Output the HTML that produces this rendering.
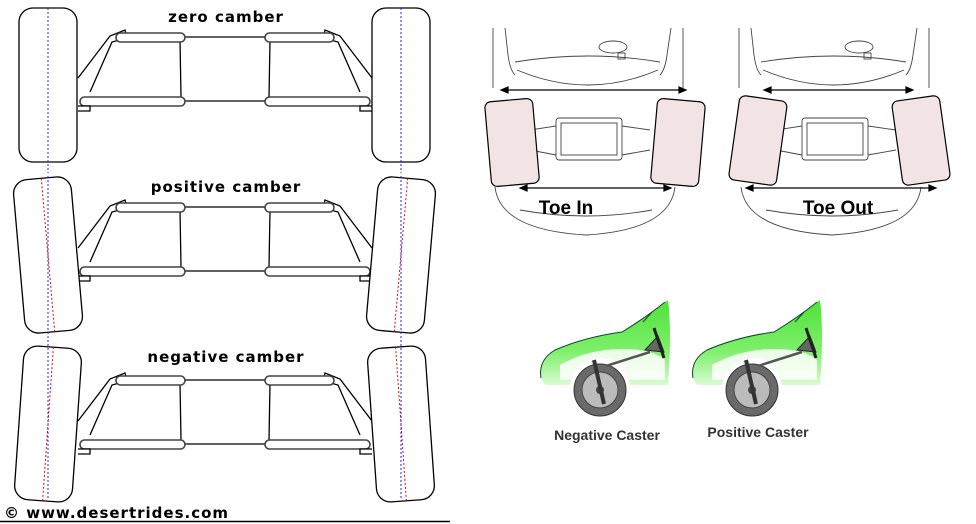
<!DOCTYPE html>
<html><head><style>
html,body{margin:0;padding:0;background:#fff;width:976px;height:524px;overflow:hidden}
svg{display:block}
.t{font-family:"DejaVu Sans","Liberation Sans",sans-serif;font-weight:bold}
</style></head><body>
<svg width="976" height="524" viewBox="0 0 976 524" xmlns="http://www.w3.org/2000/svg">
<defs>
<g id="susp" fill="#fff" stroke="#000" stroke-width="1.3">
  <path d="M78 78 L110 36 L125 30 L127 38 L112 42 L90 92" />
  <line x1="185" y1="37" x2="265" y2="37"/>
  <line x1="185" y1="101" x2="265" y2="101"/>
  <line x1="180" y1="40" x2="181" y2="97"/>
  <line x1="270" y1="40" x2="269" y2="97"/>
  <path d="M372 78 L340 36 L325 30 L323 38 L338 42 L360 92" />
  <rect x="116" y="33" width="69" height="9" rx="4.5" stroke="#444" stroke-width="1.6"/>
  <rect x="265" y="33" width="69" height="9" rx="4.5" stroke="#444" stroke-width="1.6"/>
  <rect x="80" y="97" width="105" height="9" rx="4.5" stroke="#444" stroke-width="1.6"/>
  <rect x="265" y="97" width="105" height="9" rx="4.5" stroke="#444" stroke-width="1.6"/>
  <path d="M78 106 L90 106 L90 111 L78 111" />
  <path d="M372 106 L360 106 L360 111 L372 111" />
</g>
<g id="wheel">
  <rect x="-29" y="-77" width="58" height="154" rx="14" fill="#fff" stroke="#000" stroke-width="1.3"/>
  <line x1="0" y1="-77" x2="0" y2="77" stroke="#e00" stroke-width="1" stroke-dasharray="2,2"/>
</g>
<linearGradient id="gr" x1="0" y1="0" x2="0" y2="1">
  <stop offset="0" stop-color="#4fe03a"/><stop offset="0.6" stop-color="#7ef06a"/><stop offset="1" stop-color="#d9fbd2"/>
</linearGradient>
</defs>

<use href="#susp"/>
<use href="#wheel" transform="translate(48,85)"/>
<use href="#wheel" transform="translate(401,85)"/>
<line x1="48" y1="8" x2="48" y2="173" stroke="#22f" stroke-dasharray="2,2"/>
<line x1="401" y1="8" x2="401" y2="173" stroke="#22f" stroke-dasharray="2,2"/>
<text x="226" y="22" class="t" font-size="15" text-anchor="middle" letter-spacing="1">zero camber</text>

<use href="#susp" transform="translate(0,170)"/>
<use href="#wheel" transform="translate(48,255) rotate(-5)"/>
<use href="#wheel" transform="translate(401,255) rotate(5)"/>
<line x1="48" y1="176" x2="48" y2="340" stroke="#22f" stroke-dasharray="2,2"/>
<line x1="401" y1="176" x2="401" y2="340" stroke="#22f" stroke-dasharray="2,2"/>
<text x="226" y="192" class="t" font-size="15" text-anchor="middle" letter-spacing="1">positive camber</text>

<use href="#susp" transform="translate(0,343)"/>
<use href="#wheel" transform="translate(48,424) rotate(4)"/>
<use href="#wheel" transform="translate(401,424) rotate(-4)"/>
<line x1="48" y1="340" x2="48" y2="500" stroke="#22f" stroke-dasharray="2,2"/>
<line x1="401" y1="340" x2="401" y2="500" stroke="#22f" stroke-dasharray="2,2"/>
<text x="226" y="362" class="t" font-size="15" text-anchor="middle" letter-spacing="1">negative camber</text>

<text x="4" y="518" class="t" font-size="15" letter-spacing="1">© www.desertrides.com</text>
<line x1="0" y1="521.5" x2="450" y2="521.5" stroke="#000" stroke-width="1.5"/>

<!-- Toe In -->
<g fill="none" stroke="#444" stroke-width="0.9">
  <path d="M493 28 L493 88 M505 28 L508 55 Q510 70 515 75 M683 28 L683 88 M671 28 L667 55 Q665 70 660 75"/>
  <path d="M515 62 Q588 50 660 62 M517 70 Q588 100 658 70"/>
  <ellipse cx="613" cy="47" rx="14" ry="6"/>
  <rect x="618" y="53" width="7" height="6"/>
  <rect x="556" y="118" width="66" height="42" rx="3"/>
  <rect x="561" y="123" width="56" height="32"/>
  <path d="M530 130 L556 126 M530 150 L556 155 M622 126 L650 130 M622 155 L650 150"/>
  <path d="M495 187 Q500 230 586 235 Q670 230 675 187"/>
  <path d="M520 210 Q586 222 652 210"/>
</g>
<g stroke="#000" stroke-width="1.2" fill="#f2e4e4">
  <rect x="488" y="100" width="48" height="85" rx="6" transform="rotate(-5 512 142)"/>
  <rect x="654" y="100" width="48" height="85" rx="6" transform="rotate(5 678 142)"/>
</g>
<g stroke="#000" stroke-width="1.2" fill="#000">
  <line x1="504" y1="90" x2="683" y2="90"/>
  <path d="M501 90 l7 -3 v6z M686 90 l-7 -3 v6z"/>
  <line x1="523" y1="188" x2="668" y2="188"/>
  <path d="M520 188 l7 -3 v6z M671 188 l-7 -3 v6z"/>
</g>
<text x="566" y="214" font-family="Liberation Sans,sans-serif" font-weight="bold" font-size="19" text-anchor="middle">Toe In</text>

<!-- Toe Out -->
<g fill="none" stroke="#444" stroke-width="0.9">
  <path d="M739 28 L739 88 M751 28 L754 55 Q756 70 761 75 M929 28 L929 88 M917 28 L913 55 Q911 70 906 75"/>
  <path d="M761 62 Q834 50 906 62 M763 70 Q834 100 904 70"/>
  <ellipse cx="859" cy="47" rx="14" ry="6"/>
  <rect x="864" y="53" width="7" height="6"/>
  <rect x="802" y="118" width="66" height="42" rx="3"/>
  <rect x="807" y="123" width="56" height="32"/>
  <path d="M776 130 L802 126 M776 150 L802 155 M868 126 L896 130 M868 155 L896 150"/>
  <path d="M741 187 Q746 230 832 235 Q916 230 921 187"/>
  <path d="M766 210 Q832 222 898 210"/>
</g>
<g stroke="#000" stroke-width="1.2" fill="#f2e4e4">
  <rect x="734" y="98" width="48" height="85" rx="6" transform="rotate(8 758 140)"/>
  <rect x="897" y="98" width="48" height="85" rx="6" transform="rotate(-8 921 140)"/>
</g>
<g stroke="#000" stroke-width="1.2" fill="#000">
  <line x1="767" y1="90" x2="910" y2="90"/>
  <path d="M764 90 l7 -3 v6z M913 90 l-7 -3 v6z"/>
  <line x1="749" y1="188" x2="933" y2="188"/>
  <path d="M746 188 l7 -3 v6z M936 188 l-7 -3 v6z"/>
</g>
<text x="838" y="214" font-family="Liberation Sans,sans-serif" font-weight="bold" font-size="19" text-anchor="middle">Toe Out</text>

<!-- Caster cars -->
<g id="car1">
  <path d="M541 378 Q538 360 555 350 Q585 337 622 332 Q645 318 668 300 Q672 330 668 385 L545 385 Z" fill="url(#gr)"/>
  <path d="M560 365 Q595 345 640 350 Q655 352 665 360 L665 380 L560 380 Z" fill="#fff" opacity="0.85"/>
  <path d="M541 378 Q538 360 555 350 Q585 337 622 332 Q645 318 665 302" fill="none" stroke="#143" stroke-width="1"/>
  <path d="M643 322 L652 312" stroke="#143"/>
  <circle cx="600" cy="388" r="30" fill="#fff"/>
  <circle cx="600" cy="390" r="26" fill="#6a6a6a" stroke="#333"/>
  <circle cx="600" cy="390" r="18" fill="#bbb" stroke="#444"/>
  <circle cx="600" cy="390" r="4" fill="#444"/>
  <line x1="594" y1="360" x2="604" y2="404" stroke="#333" stroke-width="4"/>
  <line x1="606" y1="366" x2="650" y2="352" stroke="#555" stroke-width="2.5"/>
  <path d="M645 350 L658 336 L664 352 Z" fill="#666" stroke="#222"/>
  <line x1="654" y1="328" x2="664" y2="358" stroke="#222" stroke-width="3"/>
</g>
<use href="#car1" transform="translate(152,0)"/>
<text x="607" y="440" font-family="Liberation Sans,sans-serif" font-weight="bold" font-size="14" fill="#333" text-anchor="middle">Negative Caster</text>
<text x="758" y="437" font-family="Liberation Sans,sans-serif" font-weight="bold" font-size="14" fill="#333" text-anchor="middle">Positive Caster</text>
</svg>
</body></html>
